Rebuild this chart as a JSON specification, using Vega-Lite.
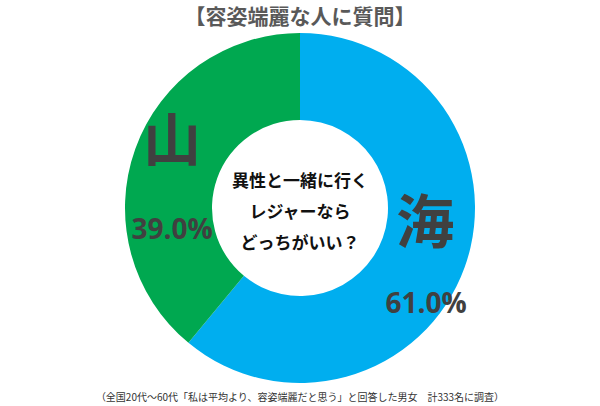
{
  "$schema": "https://vega.github.io/schema/vega-lite/v6.json",
  "padding": {"top": 7, "left": 0, "right": 0, "bottom": 0},
  "background": "white",
  "spacing": 0,
  "config": {"view": {"stroke": null}, "font": "Noto Sans CJK JP", "concat": {"spacing": 0}},
  "title": {
    "text": "（全国20代～60代「私は平均より、容姿端麗だと思う」と回答した男女　計333名に調査）",
    "orient": "bottom", "anchor": "middle", "fontSize": 10, "fontWeight": "normal",
    "color": "#333333", "offset": 10, "font": "Noto Sans CJK JP"
  },
  "vconcat": [
    {
      "width": 600,
      "height": 350,
      "title": {
        "text": "【容姿端麗な人に質問】", "anchor": "middle", "fontSize": 21, "fontWeight": "bold",
        "color": "#595959", "offset": 5, "font": "Noto Sans CJK JP"
      },
      "data": {"values": [
        {"answer": "海", "pct": 61.0, "label": "61.0%"},
        {"answer": "山", "pct": 39.0, "label": "39.0%"}
      ]},
      "encoding": {
        "theta": {"field": "pct", "type": "quantitative", "stack": true},
        "order": {"field": "pct", "sort": "descending"}
      },
      "layer": [
        {
          "mark": {"type": "arc", "outerRadius": 175, "innerRadius": 88},
          "encoding": {
            "color": {"field": "answer", "type": "nominal", "scale": {"domain": ["海", "山"], "range": ["#00AEEF", "#00A850"]}, "legend": null}
          }
        },
        {
          "mark": {"type": "text", "radius": 133, "dy": -27, "fontSize": 58, "fontWeight": "bold", "color": "#404040", "font": "Noto Sans CJK JP"},
          "encoding": {
            "text": {"condition": {"test": "datum.answer === '海'", "field": "answer"}, "value": ""}
          }
        },
        {
          "mark": {"type": "text", "radius": 136, "dy": -18, "fontSize": 58, "fontWeight": "bold", "color": "#404040", "font": "Noto Sans CJK JP"},
          "encoding": {
            "text": {"condition": {"test": "datum.answer === '山'", "field": "answer"}, "value": ""}
          }
        },
        {
          "mark": {"type": "text", "radius": 134, "dy": 52, "fontSize": 28, "fontWeight": "bold", "color": "#404040", "font": "Open Sans"},
          "encoding": {
            "text": {"condition": {"test": "datum.answer === '海'", "field": "label"}, "value": ""}
          }
        },
        {
          "mark": {"type": "text", "radius": 136, "dy": 69, "fontSize": 28, "fontWeight": "bold", "color": "#404040", "font": "Open Sans"},
          "encoding": {
            "text": {"condition": {"test": "datum.answer === '山'", "field": "label"}, "value": ""}
          }
        },
        {
          "data": {"values": [{"q": ["異性と一緒に行く", "レジャーなら", "どっちがいい？"]}]},
          "mark": {"type": "text", "fontSize": 17, "fontWeight": "bold", "color": "#111111", "lineHeight": 31, "baseline": "middle", "align": "center", "dy": -26, "font": "Noto Sans CJK JP"},
          "encoding": {"text": {"field": "q"}, "theta": null, "order": null}
        }
      ]
    }
  ]
}
